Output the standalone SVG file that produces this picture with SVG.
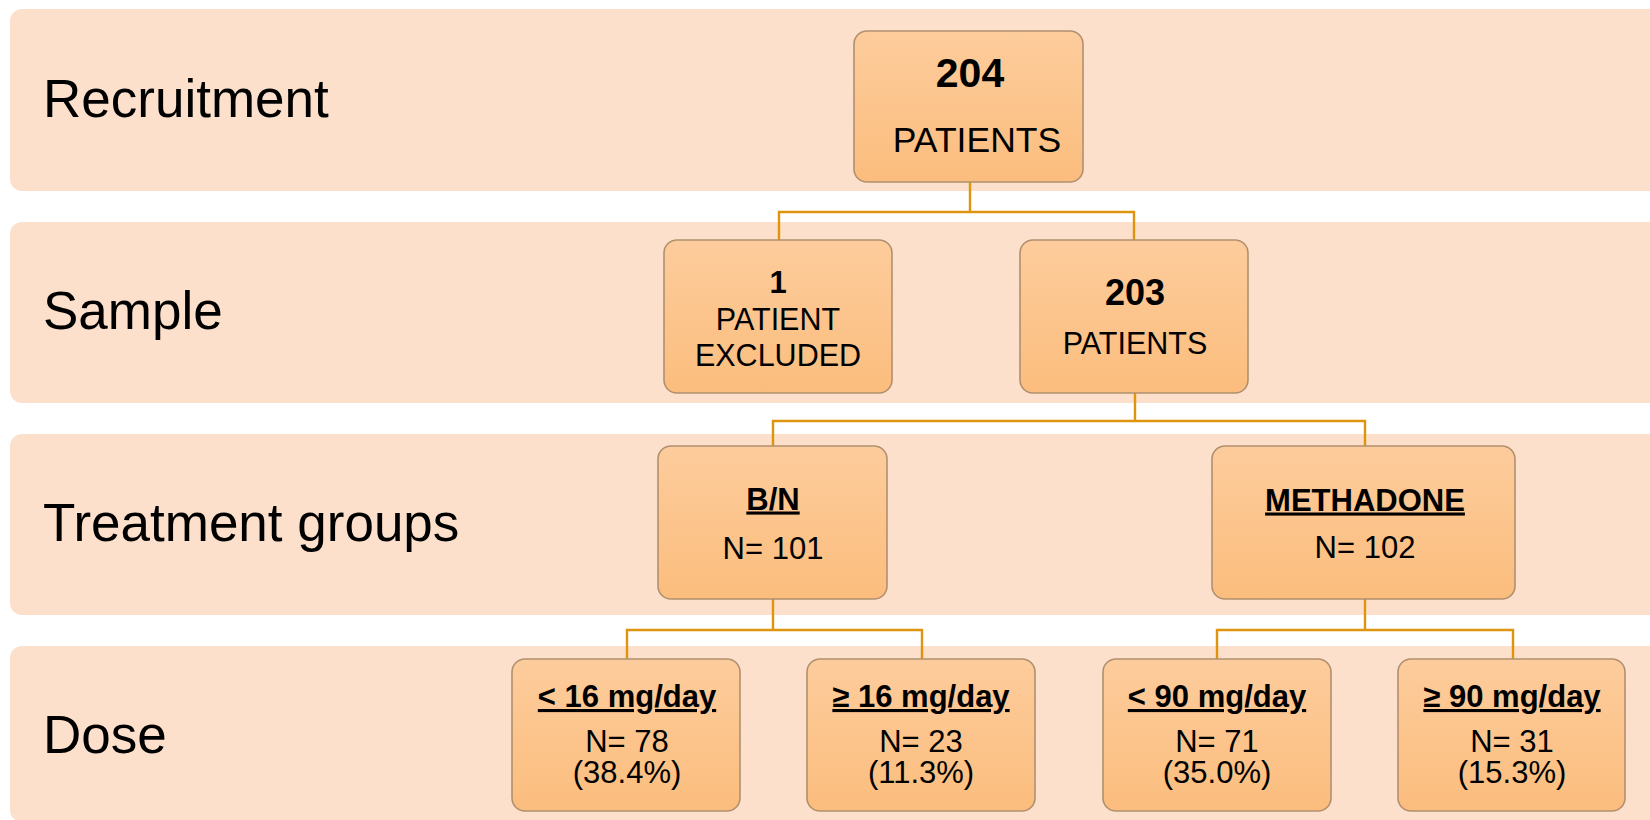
<svg xmlns="http://www.w3.org/2000/svg" width="1650" height="820" viewBox="0 0 1650 820">
<defs>
<linearGradient id="boxg" x1="0" y1="0" x2="0" y2="1">
<stop offset="0" stop-color="#FDCC9C"/>
<stop offset="1" stop-color="#FBBD7D"/>
</linearGradient>
</defs>
<style>
.band{fill:#FDE0CB}
.lbl{font-family:"Liberation Sans",Arial,sans-serif;font-size:53px;fill:#000}
.box{fill:url(#boxg);stroke:#B0906F;stroke-width:1.6}
.t{font-family:"Liberation Sans",Arial,sans-serif;fill:#000;text-anchor:middle}
.b{font-weight:bold}
.u{text-decoration:underline}
.conn{fill:none;stroke:#DE950D;stroke-width:2.4}
</style>
<g id="bands">
<rect class="band" x="10" y="9" width="1660" height="182" rx="12"/>
<rect class="band" x="10" y="222" width="1660" height="181" rx="12"/>
<rect class="band" x="10" y="434" width="1660" height="181" rx="12"/>
<rect class="band" x="10" y="646" width="1660" height="176" rx="12"/>
<text class="lbl" x="43" y="117">Recruitment</text>
<text class="lbl" x="43" y="329">Sample</text>
<text class="lbl" x="43" y="541">Treatment groups</text>
<text class="lbl" x="43" y="753">Dose</text>
</g>
<g id="connectors">
<path class="conn" d="M970 181 V212 M779 240 V212 H1134 V240"/>
<path class="conn" d="M1135 393 V421 M773 446 V421 H1365 V446"/>
<path class="conn" d="M773 599 V630 M627 659 V630 H922 V659"/>
<path class="conn" d="M1365 599 V630 M1217 659 V630 H1513 V659"/>
</g>
<g id="n204">
<rect class="box" x="854" y="31" width="229" height="151" rx="13"/>
<text class="t b" x="970" y="87" font-size="41">204</text>
<text class="t" x="977" y="152" font-size="35.5">PATIENTS</text>
</g>
<g id="n1">
<rect class="box" x="664" y="240" width="228" height="153" rx="13"/>
<text class="t b" x="778" y="293" font-size="31">1</text>
<text class="t" x="778" y="330" font-size="30.5">PATIENT</text>
<text class="t" x="778" y="366" font-size="30.5">EXCLUDED</text>
</g>
<g id="n203">
<rect class="box" x="1020" y="240" width="228" height="153" rx="13"/>
<text class="t b" x="1135" y="305" font-size="36">203</text>
<text class="t" x="1135" y="354" font-size="30.5">PATIENTS</text>
</g>
<g id="nbn">
<rect class="box" x="658" y="446" width="229" height="153" rx="13"/>
<text class="t b u" x="773" y="509.5" font-size="31">B/N</text>
<text class="t" x="773" y="558.5" font-size="31">N= 101</text>
</g>
<g id="nmeth">
<rect class="box" x="1212" y="446" width="303" height="153" rx="13"/>
<text class="t b u" x="1365" y="510.5" font-size="31">METHADONE</text>
<text class="t" x="1365" y="557.5" font-size="31">N= 102</text>
</g>
<g id="nlt16">
<rect class="box" x="512" y="659" width="228" height="152" rx="13"/>
<text class="t b u" x="627" y="707" font-size="31">&lt; 16 mg/day</text>
<text class="t" x="627" y="752" font-size="31">N= 78</text>
<text class="t" x="627" y="783" font-size="31">(38.4%)</text>
</g>
<g id="nge16">
<rect class="box" x="807" y="659" width="228" height="152" rx="13"/>
<text class="t b u" x="921" y="707" font-size="31">≥ 16 mg/day</text>
<text class="t" x="921" y="752" font-size="31">N= 23</text>
<text class="t" x="921" y="783" font-size="31">(11.3%)</text>
</g>
<g id="nlt90">
<rect class="box" x="1103" y="659" width="228" height="152" rx="13"/>
<text class="t b u" x="1217" y="707" font-size="31">&lt; 90 mg/day</text>
<text class="t" x="1217" y="752" font-size="31">N= 71</text>
<text class="t" x="1217" y="783" font-size="31">(35.0%)</text>
</g>
<g id="nge90">
<rect class="box" x="1398" y="659" width="227" height="152" rx="13"/>
<text class="t b u" x="1512" y="707" font-size="31">≥ 90 mg/day</text>
<text class="t" x="1512" y="752" font-size="31">N= 31</text>
<text class="t" x="1512" y="783" font-size="31">(15.3%)</text>
</g>
</svg>
